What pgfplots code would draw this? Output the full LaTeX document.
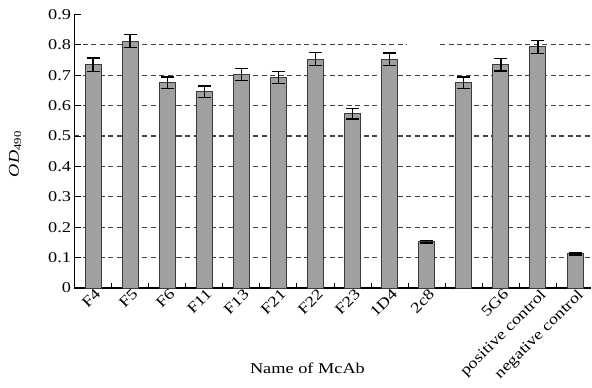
\documentclass[border=0pt]{standalone}
\usepackage{pgfplots}
\pgfplotsset{compat=1.18}
\usepackage{fontspec}
\setmainfont[FakeStretch=1.22]{Liberation Serif}
\definecolor{barfill}{HTML}{A0A0A0}
\definecolor{bardraw}{HTML}{3A3A3A}
\definecolor{gridc}{HTML}{454545}
\pgfplotstableread{
x y e
0 0.735 0.022
1 0.812 0.021
2 0.675 0.019
3 0.645 0.019
4 0.703 0.020
5 0.693 0.020
6 0.753 0.022
7 0.573 0.017
8 0.752 0.021
9 0.152 0.004
10 0.675 0.019
11 0.735 0.021
12 0.793 0.021
13 0.112 0.003
}\datatable
\begin{document}
\begin{tikzpicture}[font=\fontsize{15bp}{18bp}\selectfont]
\path[use as bounding box] (-74.5bp,-100bp) rectangle (517.5bp,288bp);
\begin{axis}[
  at={(0,0)}, anchor=south west,
  scale only axis, width=516.5bp, height=273.6bp,
  axis lines*=left,
  axis line style={line width=1.1bp, black},
  xmin=-0.5, xmax=13.43, ymin=0, ymax=0.9,
  ytick={0.1,0.2,0.3,0.4,0.5,0.6,0.7,0.8},
  extra y ticks={0,0.9},
  extra y tick style={grid=none},
  ymajorgrids,
  major grid style={gridc, line width=1.2bp, dash pattern=on 5bp off 3.5bp},
  /pgf/number format/assume math mode=true,
  yticklabel style={/pgf/number format/fixed},
  tick align=inside,
  major tick length=7bp, minor tick length=5bp,
  tick style={black, line width=1bp},
  xtick={0,...,13},
  major x tick style={draw=none},
  minor xtick={0.5,1.5,...,12.5},
  xticklabels={F4,F5,F6,F11,F13,F21,F22,F23,1D4,2c8,{},5G6,positive control,negative control},
  x tick label style={rotate=45, anchor=north east, inner sep=1bp, xshift=2bp},
  xlabel={Name of McAb},
  xlabel style={at={(axis description cs:0.451,-0.292)}, anchor=center},
  ylabel={\textit{OD}\textsubscript{490}},
  ylabel style={at={(axis description cs:-0.115,0.49)}, anchor=center},
]
\addplot[ybar, bar width=16bp, fill=barfill, draw=bardraw, line width=1bp,
  error bars/.cd, y dir=both, y explicit,
  error bar style={black, line width=1.3bp},
  error mark options={rotate=90, black, mark size=6.5bp, line width=1.3bp}]
  table[x=x, y=y, y error=e] {\datatable};
\fill[white] (axis cs:8.47,0.79) rectangle (axis cs:9.36,0.81);
\end{axis}
\end{tikzpicture}
\end{document}
